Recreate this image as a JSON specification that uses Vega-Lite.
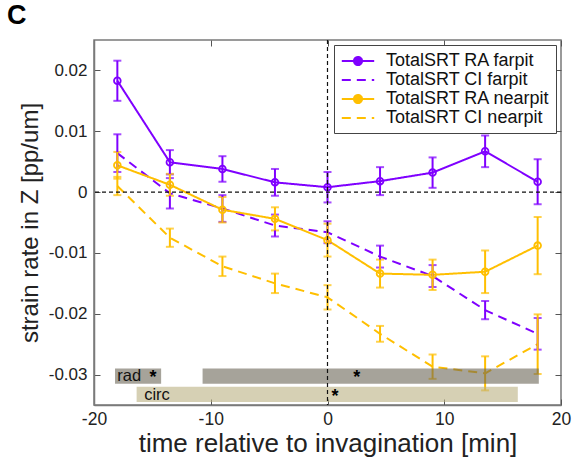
{
  "$schema": "https://vega.github.io/schema/vega-lite/v6.json",
  "width": 467,
  "height": 365,
  "autosize": {"type": "none"},
  "padding": {"left": 94, "top": 40, "right": 13, "bottom": 56},
  "background": "white",
  "title": {"text": "C", "anchor": "start", "frame": "group", "dx": -87, "offset": 9, "fontSize": 27, "fontWeight": "bold", "font": "Liberation Sans", "color": "black"},
  "config": {
    "font": "Liberation Sans",
    "view": {"stroke": "#7a7a7a", "strokeWidth": 1.5},
    "axis": {"grid": false, "domainColor": "#7a7a7a", "domainWidth": 1.5, "tickColor": "#555555", "tickWidth": 1, "labelColor": "#222222", "titleColor": "#222222", "labelFont": "Liberation Sans", "titleFont": "Liberation Sans", "titleFontWeight": "normal", "labelFlush": false}
  },
  "datasets": {
    "series": [
      {"series": "TotalSRT RA farpit", "t": -18, "v": 0.0183, "e": 0.0033},
      {"series": "TotalSRT RA farpit", "t": -13.5, "v": 0.0049, "e": 0.0020},
      {"series": "TotalSRT RA farpit", "t": -9, "v": 0.0038, "e": 0.0021},
      {"series": "TotalSRT RA farpit", "t": -4.5, "v": 0.0016, "e": 0.0022},
      {"series": "TotalSRT RA farpit", "t": 0, "v": 0.0008, "e": 0.0025},
      {"series": "TotalSRT RA farpit", "t": 4.5, "v": 0.0018, "e": 0.0023},
      {"series": "TotalSRT RA farpit", "t": 9, "v": 0.0032, "e": 0.0025},
      {"series": "TotalSRT RA farpit", "t": 13.5, "v": 0.0067, "e": 0.0026},
      {"series": "TotalSRT RA farpit", "t": 18, "v": 0.0017, "e": 0.0037},
      {"series": "TotalSRT CI farpit", "t": -18, "v": 0.0064, "e": 0.0031},
      {"series": "TotalSRT CI farpit", "t": -13.5, "v": -0.0002, "e": 0.0025},
      {"series": "TotalSRT CI farpit", "t": -9, "v": -0.0027, "e": 0.0022},
      {"series": "TotalSRT CI farpit", "t": -4.5, "v": -0.0055, "e": 0.0018},
      {"series": "TotalSRT CI farpit", "t": 0, "v": -0.0066, "e": 0.0018},
      {"series": "TotalSRT CI farpit", "t": 4.5, "v": -0.0106, "e": 0.0018},
      {"series": "TotalSRT CI farpit", "t": 9, "v": -0.0138, "e": 0.0018},
      {"series": "TotalSRT CI farpit", "t": 13.5, "v": -0.0194, "e": 0.0015},
      {"series": "TotalSRT CI farpit", "t": 18, "v": -0.0233, "e": 0.0026},
      {"series": "TotalSRT RA nearpit", "t": -18, "v": 0.0044, "e": 0.0022},
      {"series": "TotalSRT RA nearpit", "t": -13.5, "v": 0.0012, "e": 0.0018},
      {"series": "TotalSRT RA nearpit", "t": -9, "v": -0.0029, "e": 0.0021},
      {"series": "TotalSRT RA nearpit", "t": -4.5, "v": -0.0044, "e": 0.0019},
      {"series": "TotalSRT RA nearpit", "t": 0, "v": -0.0079, "e": 0.0027},
      {"series": "TotalSRT RA nearpit", "t": 4.5, "v": -0.0134, "e": 0.0023},
      {"series": "TotalSRT RA nearpit", "t": 9, "v": -0.0136, "e": 0.0025},
      {"series": "TotalSRT RA nearpit", "t": 13.5, "v": -0.0131, "e": 0.0035},
      {"series": "TotalSRT RA nearpit", "t": 18, "v": -0.0088, "e": 0.0047},
      {"series": "TotalSRT CI nearpit", "t": -18, "v": 0.0010, "e": 0.0015},
      {"series": "TotalSRT CI nearpit", "t": -13.5, "v": -0.0075, "e": 0.0015},
      {"series": "TotalSRT CI nearpit", "t": -9, "v": -0.0122, "e": 0.0016},
      {"series": "TotalSRT CI nearpit", "t": -4.5, "v": -0.0150, "e": 0.0016},
      {"series": "TotalSRT CI nearpit", "t": 0, "v": -0.0173, "e": 0.0020},
      {"series": "TotalSRT CI nearpit", "t": 4.5, "v": -0.0233, "e": 0.0013},
      {"series": "TotalSRT CI nearpit", "t": 9, "v": -0.0287, "e": 0.0020},
      {"series": "TotalSRT CI nearpit", "t": 13.5, "v": -0.0298, "e": 0.0028},
      {"series": "TotalSRT CI nearpit", "t": 18, "v": -0.0250, "e": 0.0049}
    ],
    "bars": [
      {"group": "rad", "x1": -18.2, "x2": -14.25, "y1": -0.029, "y2": -0.0315},
      {"group": "rad", "x1": -10.7, "x2": 18.1, "y1": -0.029, "y2": -0.0315},
      {"group": "circ", "x1": -16.35, "x2": 16.3, "y1": -0.032, "y2": -0.0345}
    ],
    "labels": [
      {"label": "rad", "x": -18.0, "y": -0.03025},
      {"label": "circ", "x": -15.7, "y": -0.0334}
    ],
    "stars": [
      {"x": -14.95, "y": -0.03025},
      {"x": 2.5, "y": -0.03025},
      {"x": 0.65, "y": -0.0334}
    ]
  },
  "resolve": {"axis": {"x": "independent", "y": "independent"}},
  "layer": [
    {
      "data": {"name": "series"},
      "mark": {"type": "line", "strokeWidth": 2},
      "encoding": {
        "x": {"field": "t", "type": "quantitative", "scale": {"domain": [-20, 20], "nice": false},
              "axis": {"orient": "bottom", "values": [-20, -10, 0, 10, 20], "tickSize": -6, "labelPadding": 11, "labelFontSize": 17.5, "labelExpr": "replace(format(datum.value, 'd'), '\u2212', '-')", "title": "time relative to invagination [min]", "titleFontSize": 26, "titleBaseline": "alphabetic", "titleY": 46}},
        "y": {"field": "v", "type": "quantitative", "scale": {"domain": [-0.035, 0.025], "nice": false, "zero": false},
              "axis": {"orient": "left", "values": [-0.03, -0.02, -0.01, 0, 0.01, 0.02], "tickSize": -6, "labelPadding": 13, "labelFontSize": 17, "labelExpr": "replace(format(datum.value, '.2~f'), '\u2212', '-')", "title": "strain rate in Z [pp/um]", "titleFontSize": 24, "titlePadding": 6}},
        "color": {"field": "series", "type": "nominal",
                  "scale": {"domain": ["TotalSRT RA farpit", "TotalSRT CI farpit", "TotalSRT RA nearpit", "TotalSRT CI nearpit"], "range": ["#7f00ff", "#7f00ff", "#ffbf00", "#ffbf00"]},
                  "legend": {"title": null, "orient": "top-right", "offset": 5, "symbolType": "stroke", "symbolSize": 324, "symbolStrokeWidth": 2, "symbolOffset": 8, "symbolFillColor": "white", "labelOffset": 18, "labelLimit": 400, "labelFontSize": 18, "labelColor": "#111111", "strokeColor": "#444444", "fillColor": "white", "padding": 6, "rowPadding": 0,
                             "encode": {"symbols": {"update": {"fill": {"value": "#ffffff"}, "fillOpacity": {"value": 1}, "shape": {"signal": "indexof(datum.value, ' RA ') >= 0 ? 'M-1.8,0H-0.45M0.45,0H1.8M-0.45,0A0.45,0.45,0,1,1,0.45,0A0.45,0.45,0,1,1,-0.45,0' : 'M-1.8,0H1.8'"}}}}}},
        "strokeDash": {"field": "series", "type": "nominal",
                       "scale": {"domain": ["TotalSRT RA farpit", "TotalSRT CI farpit", "TotalSRT RA nearpit", "TotalSRT CI nearpit"], "range": [[1, 0], [9, 6], [1, 0], [9, 6]]},
                       "legend": {"title": null, "orient": "top-right", "offset": 5, "symbolType": "stroke", "symbolSize": 324, "symbolStrokeWidth": 2, "symbolOffset": 8, "symbolFillColor": "white", "labelOffset": 18, "labelLimit": 400, "labelFontSize": 18, "labelColor": "#111111", "strokeColor": "#444444", "fillColor": "white", "padding": 6, "rowPadding": 0,
                             "encode": {"symbols": {"update": {"fill": {"value": "#ffffff"}, "fillOpacity": {"value": 1}, "shape": {"signal": "indexof(datum.value, ' RA ') >= 0 ? 'M-1.8,0H-0.45M0.45,0H1.8M-0.45,0A0.45,0.45,0,1,1,0.45,0A0.45,0.45,0,1,1,-0.45,0' : 'M-1.8,0H1.8'"}}}}}}
      }
    },
    {
      "data": {"name": "series"},
      "mark": {"type": "errorbar", "ticks": {"size": 8, "thickness": 2}, "thickness": 2},
      "encoding": {
        "x": {"field": "t", "type": "quantitative", "axis": null},
        "y": {"field": "v", "type": "quantitative", "axis": null},
        "yError": {"field": "e"},
        "color": {"field": "series", "type": "nominal", "legend": null}
      }
    },
    {
      "data": {"name": "series"},
      "transform": [{"filter": "indexof(datum.series, ' RA ') >= 0"}],
      "mark": {"type": "point", "filled": false, "size": 45, "strokeWidth": 1.8, "opacity": 1},
      "encoding": {
        "x": {"field": "t", "type": "quantitative", "axis": null},
        "y": {"field": "v", "type": "quantitative", "axis": null},
        "color": {"field": "series", "type": "nominal", "legend": null}
      }
    },
    {
      "data": {"name": "bars"},
      "mark": {"type": "rect", "opacity": 0.6},
      "encoding": {
        "x": {"field": "x1", "type": "quantitative", "axis": null},
        "x2": {"field": "x2"},
        "y": {"field": "y1", "type": "quantitative", "axis": null},
        "y2": {"field": "y2"},
        "fill": {"field": "group", "type": "nominal", "scale": {"domain": ["rad", "circ"], "range": ["#6a6656", "#bbb182"]}, "legend": null}
      }
    },
    {
      "data": {"values": [{}]},
      "mark": {"type": "rule", "strokeDash": [4, 3], "color": "#111111", "strokeWidth": 1.2},
      "encoding": {
        "x": {"datum": 0, "type": "quantitative", "axis": {"orient": "top", "values": [-20, -10, 0, 10, 20], "labels": false, "title": null, "domain": false, "tickSize": -6}}
      }
    },
    {
      "data": {"values": [{}]},
      "mark": {"type": "rule", "strokeDash": [4, 3], "color": "#111111", "strokeWidth": 1.2},
      "encoding": {
        "y": {"datum": 0, "type": "quantitative", "axis": {"orient": "right", "values": [-0.03, -0.02, -0.01, 0, 0.01, 0.02], "labels": false, "title": null, "domain": false, "tickSize": -6}}
      }
    },
    {
      "data": {"name": "labels"},
      "mark": {"type": "text", "align": "left", "baseline": "middle", "fontSize": 16.5, "color": "#111111"},
      "encoding": {
        "x": {"field": "x", "type": "quantitative", "axis": null},
        "y": {"field": "y", "type": "quantitative", "axis": null},
        "text": {"field": "label"}
      }
    },
    {
      "data": {"name": "stars"},
      "mark": {"type": "text", "align": "center", "baseline": "middle", "fontSize": 18, "fontWeight": "bold", "dy": 2, "color": "#000000", "text": "*"},
      "encoding": {
        "x": {"field": "x", "type": "quantitative", "axis": null},
        "y": {"field": "y", "type": "quantitative", "axis": null}
      }
    }
  ]
}
